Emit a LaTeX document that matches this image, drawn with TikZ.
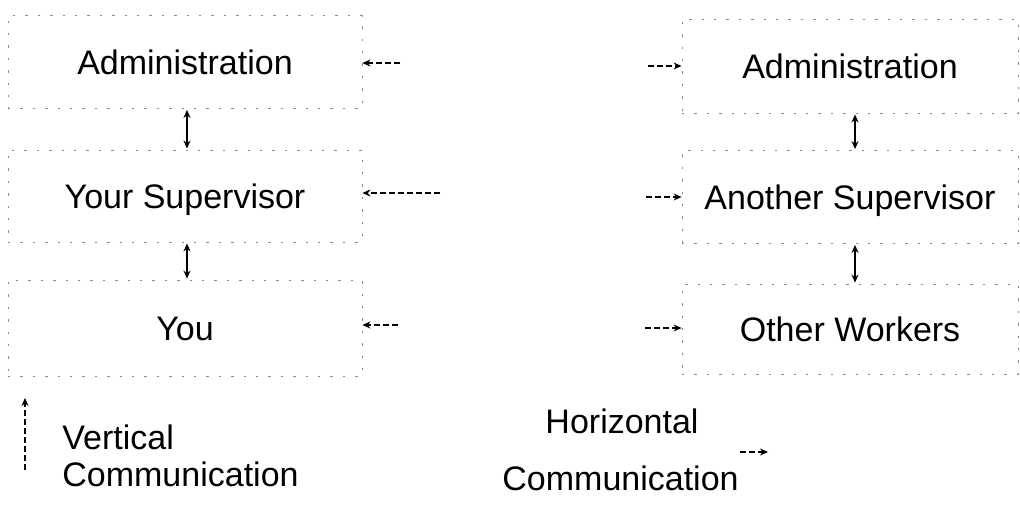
\documentclass[tikz,border=0pt]{standalone}
\usepackage{fontspec}
\setmainfont{Liberation Sans}
\usetikzlibrary{arrows.meta}
\begin{document}
\begin{tikzpicture}[x=0.5pt,y=-0.5pt,
  every node/.style={font=\fontsize{17}{20}\selectfont},
  boxn/.style={draw=black!45, line width=0.4pt, dash pattern=on 1.2pt off 5pt, inner sep=0pt, text height=12.2pt, text depth=0pt},
  varrow/.style={line width=0.8pt, {Stealth[length=4pt,width=3.5pt]}-{Stealth[length=4pt,width=3.5pt]}, shorten >=0.5pt, shorten <=0.5pt},
  harrow/.style={line width=0.6pt, dash pattern=on 3pt off 1.5pt, -{Stealth[length=4pt,width=3.5pt]}},
  legtext/.style={inner sep=0pt}]
\useasboundingbox (0,0) rectangle (1020,511);
% left column
\node[boxn, minimum width=177pt, minimum height=46.5pt] (a1) at (185,62) {Administration};
\node[boxn, minimum width=177pt, minimum height=46pt] (a2) at (185,196) {Your Supervisor};
\node[boxn, minimum width=177pt, minimum height=48pt] (a3) at (185,328) {You};
% right column
\node[boxn, minimum width=168pt, minimum height=47pt] (b1) at (850,66) {Administration};
\node[boxn, minimum width=168pt, minimum height=46.5pt] (b2) at (850,197) {Another Supervisor};
\node[boxn, minimum width=168pt, minimum height=45pt] (b3) at (850,329) {Other Workers};
% vertical arrows
\draw[varrow] ([xshift=1pt]a1.south) -- ([xshift=1pt]a2.north);
\draw[varrow] ([xshift=1pt]a2.south) -- ([xshift=1pt]a3.north);
\draw[varrow] ([xshift=2.5pt]b1.south) -- ([xshift=2.5pt]b2.north);
\draw[varrow] ([xshift=2.5pt]b2.south) -- ([xshift=2.5pt]b3.north);
% horizontal arrows
\coordinate (l1) at (400,63);
\coordinate (l2) at (440,193);
\coordinate (l3) at (398,325);
\coordinate (r1) at (648,66);
\coordinate (r2) at (646,197);
\coordinate (r3) at (645,328);
\draw[harrow] (l1) -- (a1.east |- l1);
\draw[harrow] (l2) -- (a2.east |- l2);
\draw[harrow] (l3) -- (a3.east |- l3);
\draw[harrow] (r1) -- (b1.west |- r1);
\draw[harrow] (r2) -- (b2.west |- r2);
\draw[harrow] (r3) -- (b3.west |- r3);
% legend
\coordinate (lv1) at (25,470);
\coordinate (lv2) at (25,398);
\draw[harrow] (lv1) -- (lv2);
\node[legtext, anchor=west] (vt) at (62,437) {Vertical};
\node[legtext, anchor=west] (vc) at (62,474) {Communication};
\node[legtext] (ht) at (622,421) {Horizontal};
\node[legtext, anchor=west] (hc) at (502,478) {Communication};
\coordinate (lh1) at (740,452);
\coordinate (lh2) at (768,452);
\draw[harrow] (lh1) -- (lh2);
\end{tikzpicture}
\end{document}
